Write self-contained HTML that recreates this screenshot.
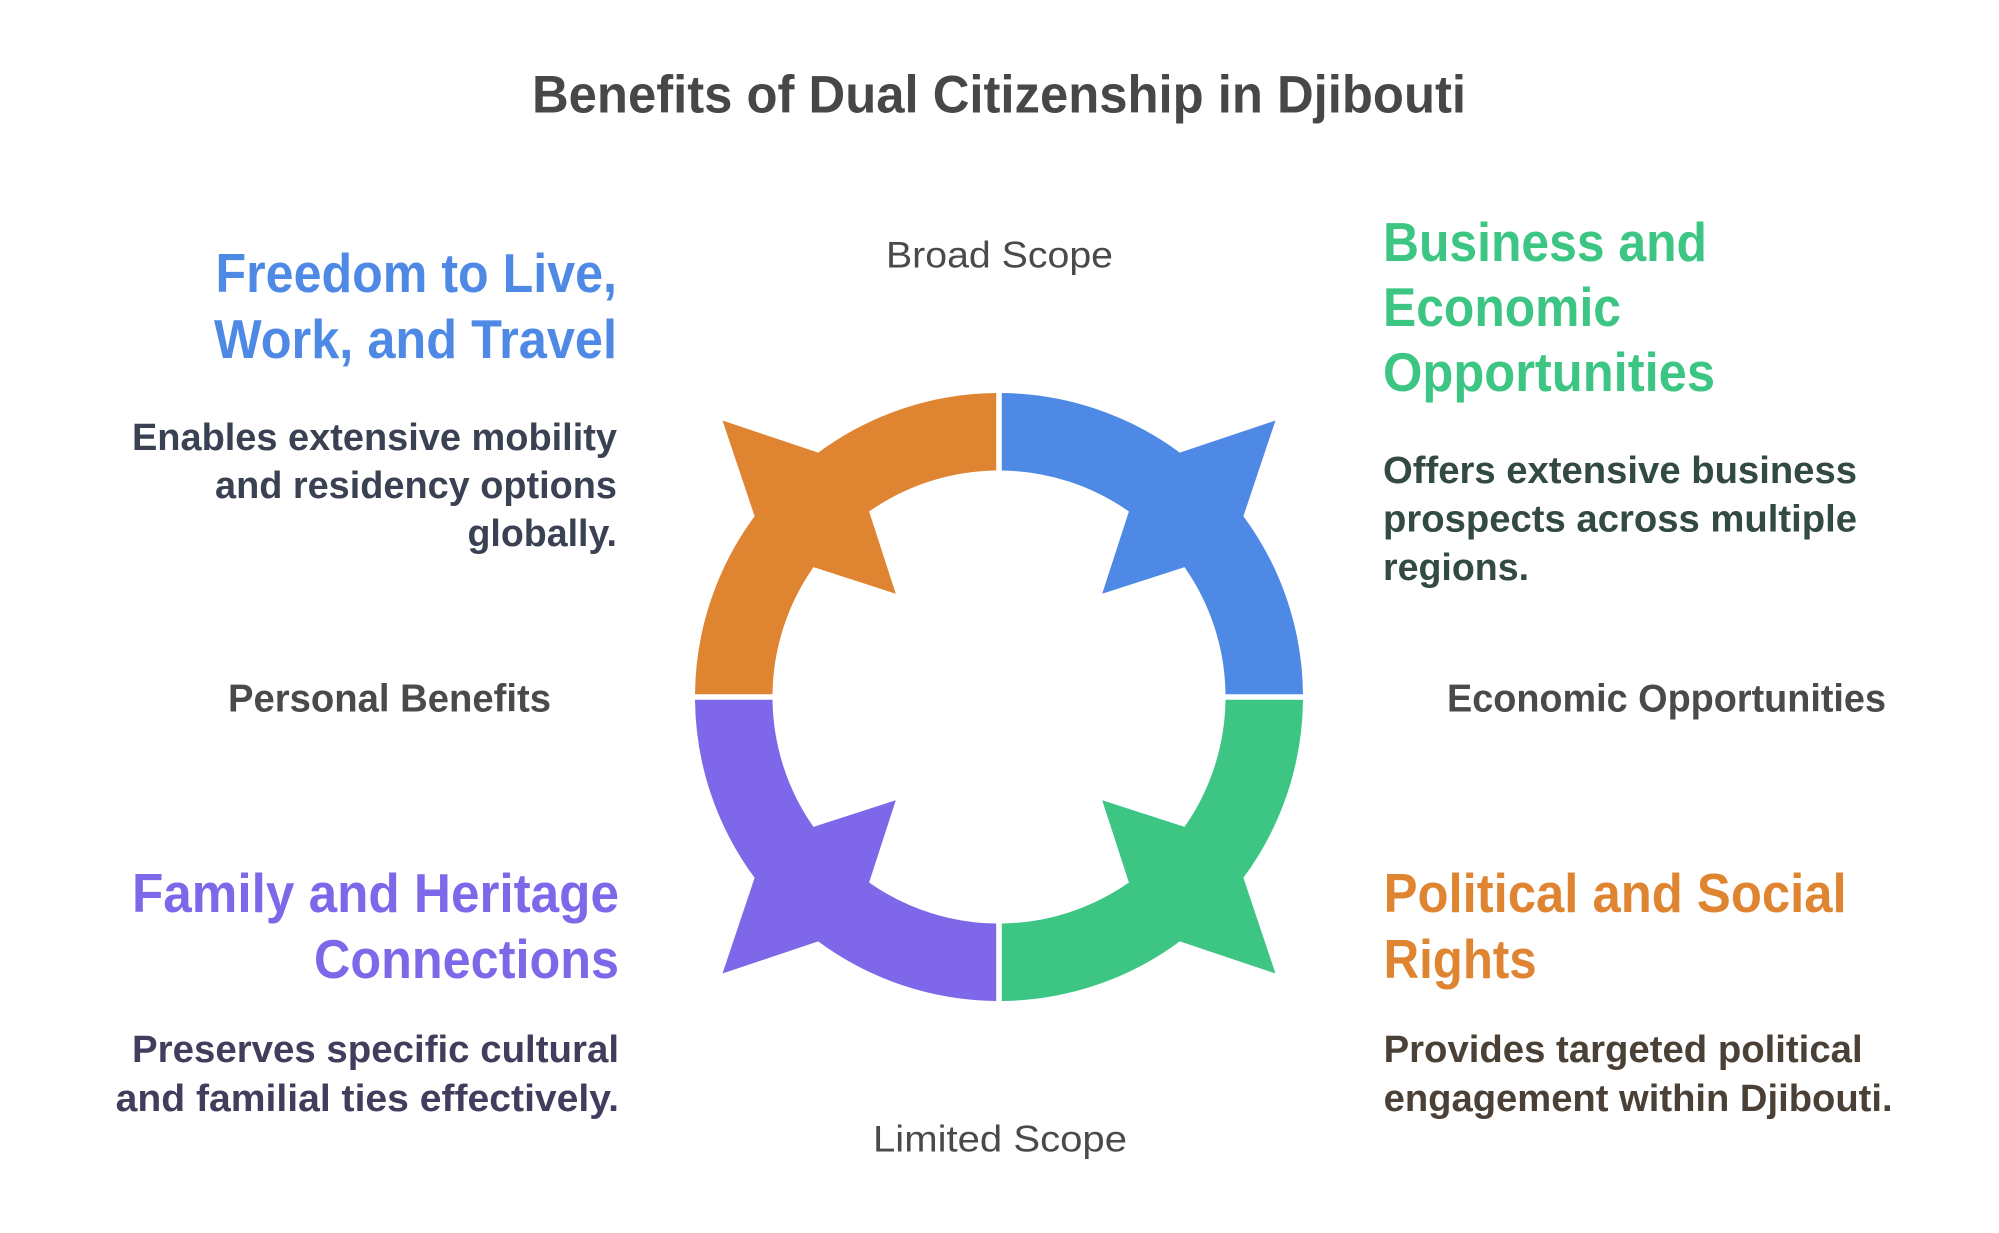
<!DOCTYPE html>
<html>
<head>
<meta charset="utf-8">
<style>
  html, body { margin:0; padding:0; background:#ffffff; }
  body { width:1999px; height:1233px; overflow:hidden; }
  svg { display:block; }
  text { font-family: "Liberation Sans", Arial, sans-serif; }
  .b { font-weight:700; }
  .r { font-weight:400; }
</style>
</head>
<body>
<svg width="1999" height="1233" viewBox="0 0 1999 1233" xmlns="http://www.w3.org/2000/svg">
  <rect width="1999" height="1233" fill="#ffffff"/>

  <!-- Title -->
  <text class="b" x="532" y="112.5" font-size="53" fill="#474747" textLength="934" lengthAdjust="spacingAndGlyphs">Benefits of Dual Citizenship in Djibouti</text>

  <!-- Ring -->
  <defs>
    <path id="q" d="M 2.8 -304 A 304 304 0 0 1 180.8 -244.4 L 276.5 -276.5 L 244.4 -180.8 A 304 304 0 0 1 304 -2.8 L 226.5 -2.8 A 226.5 226.5 0 0 0 185.5 -129.9 L 103.2 -103.2 L 129.9 -185.5 A 226.5 226.5 0 0 0 2.8 -226.5 Z"/>
  </defs>
  <g transform="translate(999,697)">
    <use href="#q" fill="#4E89E6"/>
    <use href="#q" fill="#DF8532" transform="scale(-1,1)"/>
    <use href="#q" fill="#3DC583" transform="scale(1,-1)"/>
    <use href="#q" fill="#7E67E9" transform="scale(-1,-1)"/>
  </g>

  <!-- Axis labels -->
  <text class="r" x="886" y="267.7" font-size="37" fill="#4a4a4a" textLength="227" lengthAdjust="spacingAndGlyphs">Broad Scope</text>
  <text class="r" x="873" y="1151.7" font-size="37" fill="#4a4a4a" textLength="254" lengthAdjust="spacingAndGlyphs">Limited Scope</text>
  <text class="b" x="228" y="711.7" font-size="39" fill="#4a4a4a" textLength="323" lengthAdjust="spacingAndGlyphs">Personal Benefits</text>
  <text class="b" x="1447" y="711.7" font-size="39" fill="#4a4a4a" textLength="439" lengthAdjust="spacingAndGlyphs">Economic Opportunities</text>

  <!-- Top-left block -->
  <text class="b" x="215.5" y="292" font-size="55" fill="#4E89E6" textLength="401.5" lengthAdjust="spacingAndGlyphs">Freedom to Live,</text>
  <text class="b" x="214" y="358" font-size="55" fill="#4E89E6" textLength="403" lengthAdjust="spacingAndGlyphs">Work, and Travel</text>
  <text class="b" x="132" y="450" font-size="38" fill="#394152" textLength="485" lengthAdjust="spacingAndGlyphs">Enables extensive mobility</text>
  <text class="b" x="215" y="498" font-size="38" fill="#394152" textLength="402" lengthAdjust="spacingAndGlyphs">and residency options</text>
  <text class="b" x="467.5" y="546" font-size="38" fill="#394152" textLength="149.5" lengthAdjust="spacingAndGlyphs">globally.</text>

  <!-- Top-right block -->
  <text class="b" x="1383" y="261" font-size="55" fill="#3DC583" textLength="324" lengthAdjust="spacingAndGlyphs">Business and</text>
  <text class="b" x="1383" y="326" font-size="55" fill="#3DC583" textLength="238" lengthAdjust="spacingAndGlyphs">Economic</text>
  <text class="b" x="1383" y="391" font-size="55" fill="#3DC583" textLength="332" lengthAdjust="spacingAndGlyphs">Opportunities</text>
  <text class="b" x="1383" y="483" font-size="38" fill="#324a40" textLength="474" lengthAdjust="spacingAndGlyphs">Offers extensive business</text>
  <text class="b" x="1383" y="531.5" font-size="38" fill="#324a40" textLength="474" lengthAdjust="spacingAndGlyphs">prospects across multiple</text>
  <text class="b" x="1383" y="580" font-size="38" fill="#324a40" textLength="146" lengthAdjust="spacingAndGlyphs">regions.</text>

  <!-- Bottom-left block -->
  <text class="b" x="132" y="912" font-size="55" fill="#7E67E9" textLength="487" lengthAdjust="spacingAndGlyphs">Family and Heritage</text>
  <text class="b" x="314" y="978" font-size="55" fill="#7E67E9" textLength="305" lengthAdjust="spacingAndGlyphs">Connections</text>
  <text class="b" x="132" y="1062" font-size="38" fill="#433c5c" textLength="487" lengthAdjust="spacingAndGlyphs">Preserves specific cultural</text>
  <text class="b" x="115.6" y="1111" font-size="38" fill="#433c5c" textLength="503.4" lengthAdjust="spacingAndGlyphs">and familial ties effectively.</text>

  <!-- Bottom-right block -->
  <text class="b" x="1383.6" y="912" font-size="55" fill="#DF8532" textLength="463" lengthAdjust="spacingAndGlyphs">Political and Social</text>
  <text class="b" x="1383.6" y="978" font-size="55" fill="#DF8532" textLength="153" lengthAdjust="spacingAndGlyphs">Rights</text>
  <text class="b" x="1383.6" y="1062" font-size="38" fill="#4b4036" textLength="479" lengthAdjust="spacingAndGlyphs">Provides targeted political</text>
  <text class="b" x="1383.6" y="1111" font-size="38" fill="#4b4036" textLength="509" lengthAdjust="spacingAndGlyphs">engagement within Djibouti.</text>
</svg>
</body>
</html>
